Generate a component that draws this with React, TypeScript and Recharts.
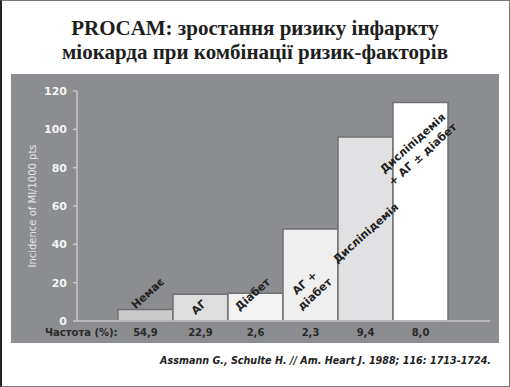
import React from 'react';
import { BarChart, Bar, XAxis, YAxis, Cell } from 'recharts';

const categories = ['Немає', 'АГ', 'Діабет', 'АГ + діабет', 'Дисліпідемія', 'Дисліпідемія + АГ ± діабет'];
const labelLines = [['Немає'], ['АГ'], ['Діабет'], ['АГ +', 'діабет'], ['Дисліпідемія'], ['Дисліпідемія', '+ АГ ± діабет']];
const incidence = [6, 14, 14.5, 48, 96, 114];
const frequency = ['54,9', '22,9', '2,6', '2,3', '9,4', '8,0'];
const yTicks = [0, 20, 40, 60, 80, 100, 120];

const barFills = ['#cacaca', '#dedede', '#f3f3f3', '#efefef', '#e1e1e3', '#ffffff'];
// label anchor (in axis units) and horizontal nudge for the diagonal captions
const labelAnchor = [14.5, 7.3, 14, 17, 46, 90];
const labelDx = [2, -2, -3, -1, 0, -3];

const data = categories.map((c, i) => ({ name: c, incidence: incidence[i] }));

const FONT = '"DejaVu Sans", Verdana, sans-serif';

const BarCaption = (props: any) => {
  const { x, y, width, height, value } = props;
  let index = props.index;
  if (index === undefined || index === null) index = incidence.indexOf(value);
  const zeroY = y + height;
  const ppu = height / value;
  const cx = x + width / 2 + labelDx[index];
  const cy = zeroY - labelAnchor[index] * ppu;
  const lines = labelLines[index];
  const lh = 15;
  return (
    <text
      transform={`rotate(-42, ${cx}, ${cy})`}
      textAnchor="middle"
      fontFamily={FONT}
      fontWeight="bold"
      fontSize={11}
      fill="#222"
    >
      {lines.map((l, i) => (
        <tspan key={i} x={cx} y={cy + (i - (lines.length - 1) / 2) * lh + 4}>
          {l}
        </tspan>
      ))}
    </text>
  );
};

const FreqTick = (props: any) => {
  const { x, y, payload } = props;
  const i = categories.indexOf(payload.value);
  return (
    <text x={x} y={y + 7} textAnchor="middle" fontFamily={FONT} fontWeight="bold" fontSize={10} fill="#2a2a2a">
      {frequency[i]}
    </text>
  );
};

export default function App() {
  return (
    <div
      style={{
        position: 'absolute',
        left: 0,
        top: 0,
        width: 510,
        height: 387,
        boxSizing: 'border-box',
        background: '#fff',
        borderTop: '1px solid #777',
        borderRight: '1px solid #777',
        borderBottom: '1px solid #777',
        borderLeft: '2px solid #222',
        overflow: 'hidden',
      }}
    >
      <div
        style={{
          position: 'absolute',
          left: -2,
          top: 15,
          width: 510,
          textAlign: 'center',
          fontFamily: '"Liberation Serif", serif',
          fontWeight: 'bold',
          fontSize: 21,
          lineHeight: '24px',
          color: '#1e1e1e',
        }}
      >
        <div>PROCAM: зростання ризику інфаркту</div>
        <div>міокарда при комбінації ризик-факторів</div>
      </div>
      <div style={{ position: 'absolute', left: 9, top: 73, width: 488, height: 269, background: '#8c8d91' }}>
        <BarChart
          width={488}
          height={269}
          data={data}
          margin={{ top: 17, right: 9, left: 0, bottom: 0 }}
          barCategoryGap={0}
        >
          <XAxis
            dataKey="name"
            height={22}
            padding={{ left: 41, right: 42 }}
            tickLine={false}
            axisLine={{ stroke: '#c9c9cb', strokeWidth: 1.5 }}
            tick={<FreqTick />}
            interval={0}
            label={(p: any) => {
              const vb = p.viewBox || { x: 66, y: 247 };
              return (
                <text x={vb.x - 32} y={vb.y + 15} fontFamily={FONT} fontWeight="bold" fontSize={10} fill="#2a2a2a">
                  Частота (%):
                </text>
              );
            }}
          />
          <YAxis
            width={66}
            domain={[0, 120]}
            ticks={yTicks}
            interval={0}
            tickSize={4}
            tickMargin={6}
            axisLine={{ stroke: '#c9c9cb', strokeWidth: 1.5 }}
            tickLine={{ stroke: '#c9c9cb', strokeWidth: 1.5 }}
            tick={{ fill: '#f4f4f4', fontFamily: FONT, fontWeight: 'bold', fontSize: 11 }}
            label={(p: any) => {
              const vb = p.viewBox || { x: 0, y: 17, height: 230 };
              const cy = vb.y + vb.height / 2;
              return (
                <text
                  x={21}
                  y={cy}
                  transform={`rotate(-90, 21, ${cy})`}
                  textAnchor="middle"
                  dominantBaseline="central"
                  fontFamily={FONT}
                  fontSize={10}
                  fill="#e4e4e4"
                >
                  Incidence of MI/1000 pts
                </text>
              );
            }}
          />
          <Bar dataKey="incidence" isAnimationActive={false} stroke="#707070" strokeWidth={1.5} label={<BarCaption />}>
            {data.map((d, i) => (
              <Cell key={d.name} fill={barFills[i]} />
            ))}
          </Bar>
        </BarChart>
      </div>
      <div
        style={{
          position: 'absolute',
          right: 18,
          top: 354,
          fontFamily: FONT,
          fontWeight: 'bold',
          fontStyle: 'italic',
          fontSize: 9.6,
          color: '#222',
          whiteSpace: 'nowrap',
        }}
      >
        Assmann G., Schulte H. // Am. Heart J. 1988; 116: 1713-1724.
      </div>
    </div>
  );
}
